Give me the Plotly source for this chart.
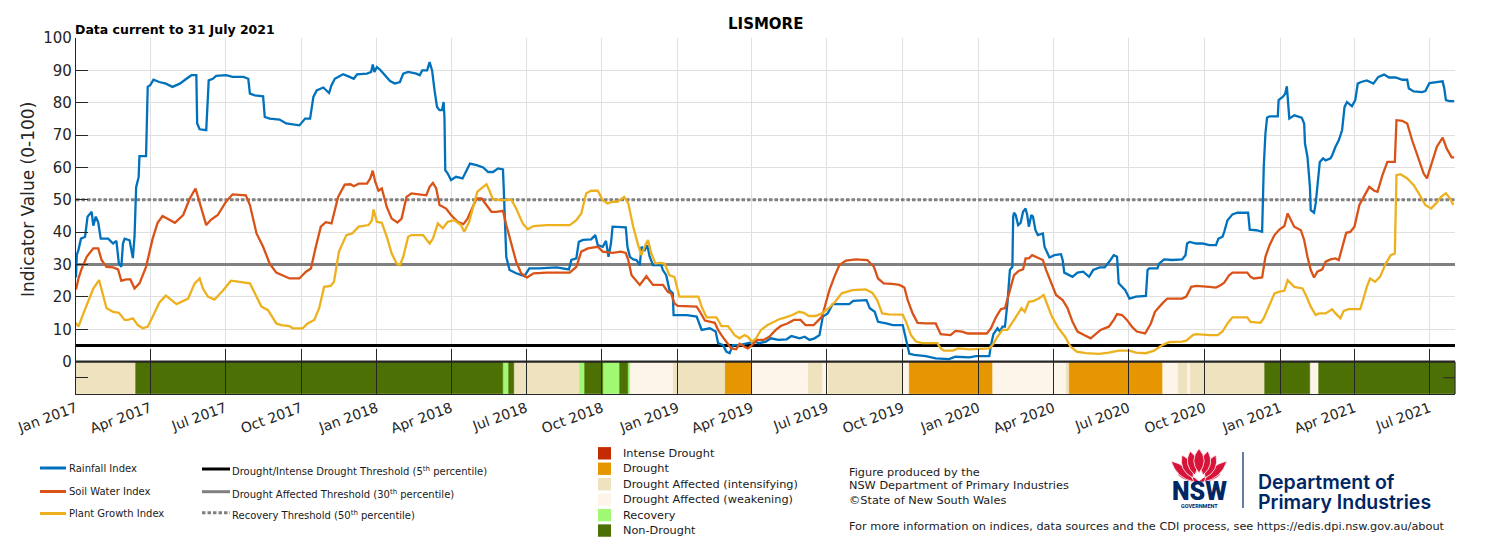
import plotly.graph_objects as go
import pandas as pd

# ---------------- DATA ----------------
rain_dates = [
 "2017-01-01","2017-01-02","2017-01-04","2017-01-07","2017-01-12","2017-01-15","2017-01-20","2017-01-22","2017-01-25","2017-01-28",
 "2017-01-31","2017-02-09","2017-02-15","2017-02-19","2017-02-22","2017-02-25","2017-02-27","2017-03-01","2017-03-07","2017-03-09",
 "2017-03-11","2017-03-13","2017-03-15","2017-03-18","2017-03-19","2017-03-27","2017-03-29","2017-04-01","2017-04-05","2017-04-12",
 "2017-04-20","2017-04-28","2017-05-07","2017-05-15","2017-05-21","2017-05-27","2017-05-28","2017-05-31","2017-06-08","2017-06-11",
 "2017-06-16","2017-06-20","2017-07-02","2017-07-10","2017-07-23","2017-07-29","2017-07-31","2017-08-06","2017-08-16","2017-08-18",
 "2017-08-24","2017-09-05","2017-09-13","2017-09-29","2017-10-06","2017-10-12","2017-10-16","2017-10-20","2017-10-28","2017-11-04",
 "2017-11-07","2017-11-11","2017-11-21","2017-11-29","2017-12-04","2017-12-08","2017-12-20","2017-12-25","2017-12-27","2017-12-29",
 "2018-01-01","2018-01-05","2018-01-11","2018-01-17","2018-01-23","2018-01-29","2018-02-02","2018-02-08","2018-02-18","2018-02-22",
 "2018-02-25","2018-03-03","2018-03-06","2018-03-09","2018-03-12","2018-03-15","2018-03-18","2018-03-21","2018-03-23","2018-03-24",
 "2018-03-25","2018-03-28","2018-04-01","2018-04-07","2018-04-15","2018-04-19","2018-04-24","2018-05-02","2018-05-10","2018-05-16",
 "2018-05-22","2018-05-28","2018-06-03","2018-06-04","2018-06-06","2018-06-07","2018-06-11","2018-06-19","2018-06-29","2018-07-05",
 "2018-07-17","2018-08-07","2018-08-22","2018-08-25","2018-08-31","2018-09-03","2018-09-08","2018-09-18","2018-09-23","2018-09-26",
 "2018-10-02","2018-10-06","2018-10-09","2018-10-12","2018-10-14","2018-10-18","2018-10-30","2018-11-01","2018-11-04","2018-11-08",
 "2018-11-12","2018-11-16","2018-11-18","2018-11-22","2018-11-25","2018-11-28","2018-12-02","2018-12-12","2018-12-14","2018-12-18",
 "2018-12-22","2018-12-26","2018-12-27","2019-01-12","2019-01-24","2019-01-30","2019-02-09","2019-02-16","2019-02-19","2019-02-25",
 "2019-03-01","2019-03-05","2019-03-09","2019-03-17","2019-03-27","2019-04-04","2019-04-10","2019-04-18","2019-04-24","2019-05-03",
 "2019-05-13","2019-05-19","2019-05-29","2019-06-04","2019-06-10","2019-06-16","2019-06-22","2019-06-26","2019-07-02","2019-07-08",
 "2019-07-28","2019-08-02","2019-08-18","2019-08-22","2019-08-28","2019-09-01","2019-09-11","2019-09-19","2019-10-01","2019-10-04",
 "2019-10-07","2019-10-09","2019-10-15","2019-10-29","2019-11-10","2019-11-26","2019-12-04","2019-12-21","2019-12-29","2020-01-14",
 "2020-01-16","2020-01-19","2020-01-24","2020-01-27","2020-01-30","2020-02-02","2020-02-05","2020-02-08","2020-02-11","2020-02-12",
 "2020-02-13","2020-02-15","2020-02-18","2020-02-21","2020-02-24","2020-02-27","2020-02-29","2020-03-02","2020-03-05","2020-03-07",
 "2020-03-10","2020-03-13","2020-03-19","2020-03-21","2020-03-27","2020-04-02","2020-04-10","2020-04-12","2020-04-14","2020-04-24",
 "2020-04-30","2020-05-07","2020-05-14","2020-05-19","2020-05-27","2020-06-02","2020-06-09","2020-06-13","2020-06-17","2020-06-19",
 "2020-06-27","2020-07-02","2020-07-10","2020-07-22","2020-07-24","2020-07-26","2020-08-05","2020-08-07","2020-08-13","2020-08-23",
 "2020-09-04","2020-09-08","2020-09-10","2020-09-13","2020-09-21","2020-09-29","2020-10-07","2020-10-15","2020-10-18","2020-10-23",
 "2020-10-25","2020-10-29","2020-11-04","2020-11-10","2020-11-23","2020-11-25","2020-12-03","2020-12-10","2020-12-12","2020-12-14",
 "2020-12-16","2020-12-19","2020-12-29","2020-12-30","2021-01-04","2021-01-07","2021-01-09","2021-01-10","2021-01-12","2021-01-18",
 "2021-01-27","2021-01-30","2021-01-31","2021-02-03","2021-02-04","2021-02-06","2021-02-07","2021-02-11","2021-02-13","2021-02-15",
 "2021-02-17","2021-02-18","2021-02-22","2021-02-25","2021-03-03","2021-03-05","2021-03-09","2021-03-13","2021-03-17","2021-03-20",
 "2021-03-23","2021-03-29","2021-04-02","2021-04-05","2021-04-09","2021-04-16","2021-04-20","2021-04-24","2021-04-30","2021-05-07",
 "2021-05-13","2021-05-21","2021-05-29","2021-06-04","2021-06-06","2021-06-12","2021-06-22","2021-06-26","2021-07-01","2021-07-09",
 "2021-07-17","2021-07-19","2021-07-21","2021-07-25","2021-07-31"]
rain_vals = [
 26,33,34.5,38,38.6,44.8,46.3,42,44.8,43,
 38,38,36.5,37.3,30.3,29.3,36.5,38,37.5,34.5,
 32,38.6,54,57,63.5,63.5,84.9,85.4,87.1,86.4,
 85.9,84.9,85.9,87.4,88.5,88.5,73.6,71.8,71.5,86.9,
 87.4,88.3,88.5,88,88,87.4,82.8,82.3,82,75.6,
 75.1,74.8,73.6,73,75.1,75.1,81.8,83.8,84.7,83,
 85.4,87.4,88.8,88,87.4,88.8,89,89.5,91.8,89.5,
 91,90.2,88.5,86.7,85.9,86.4,89,89.5,89,88.5,
 90,90,92.6,90,83.8,78.7,77.7,77.7,80.2,75.6,
 59.2,58.1,56.1,57.1,56.6,58.6,61.2,60.7,60,58.6,
 58.6,59.7,59.4,53,38.6,32.4,28.3,27.3,26.4,28.8,
 28.8,29.1,28.5,31.4,31.9,37,37.6,37.8,39.1,36,
 35.5,37.3,32.4,36.5,41.7,41.7,41.5,35.5,32.4,31.6,
 31.4,29.8,35.5,34.5,36,32.4,29.8,29.8,28.3,26.7,
 22.1,21.1,14.4,14.4,13.9,9.8,10.3,9.3,5.7,5.1,
 3.1,2.6,5.1,5.1,5.7,6.2,5.7,6.2,7.2,6.7,
 6.9,7.9,7.2,7.7,6.7,7.2,8.2,13.9,14.9,17.8,
 17.8,18.8,19,16.5,15.4,12.3,11.8,11.3,11.3,7.7,
 4.6,2.4,2.1,1.7,1.0,0.8,1.5,1.3,1.7,1.7,
 5.1,8.5,10.3,9.3,10.8,10.8,18,28.3,29.3,44.8,
 46,45.3,42.2,42.9,46.3,47.3,45.3,41.7,45.3,44.8,
 40.6,39.1,39.6,35.5,32.2,32.9,33.2,31.4,27.5,26.2,
 27.5,27.8,26.2,28.3,29.1,29.1,31.4,32.9,32.4,24.2,
 22.1,19.5,20.1,20.3,28.3,28.8,28.8,30.3,31.6,31.4,
 31.6,32.9,36.5,37,36.5,36.5,36,36,38,38.6,
 40.1,43.7,45.5,46,46,40.8,40.6,40.1,60.2,70.5,
 75.4,75.8,75.8,80.8,81.8,82.8,85.1,80.8,75.1,76.1,
 75.4,73.6,67.4,63.3,60.7,54,46.8,46,48.9,54,
 57.1,61.7,62.8,62.2,62.8,63.8,66.4,68.4,71.5,78.7,
 80.2,78.9,80.8,85.9,86.4,86.9,86.4,85.9,88,88.7,
 87.8,87.8,87.1,87.1,84.4,83.5,83.3,83.6,86.1,86.4,
 86.6,84.4,80.8,80.5,80.5]

soil_dates = [
 "2017-01-01","2017-01-04","2017-01-08","2017-01-14","2017-01-22","2017-01-28","2017-02-01","2017-02-07","2017-02-15","2017-02-21",
 "2017-02-25","2017-03-03","2017-03-08","2017-03-13","2017-03-19","2017-03-27","2017-04-04","2017-04-10","2017-04-16","2017-05-01",
 "2017-05-11","2017-05-19","2017-05-26","2017-05-31","2017-06-08","2017-06-14","2017-06-22","2017-07-02","2017-07-10","2017-07-26",
 "2017-07-31","2017-08-08","2017-08-16","2017-08-24","2017-09-01","2017-09-17","2017-09-29","2017-10-07","2017-10-13","2017-10-19",
 "2017-10-25","2017-10-31","2017-11-07","2017-11-15","2017-11-23","2017-11-30","2017-12-04","2017-12-10","2017-12-20","2017-12-24",
 "2017-12-27","2017-12-30","2018-01-03","2018-01-07","2018-01-13","2018-01-19","2018-01-26","2018-01-31","2018-02-06","2018-02-12",
 "2018-02-22","2018-03-02","2018-03-06","2018-03-10","2018-03-14","2018-03-18","2018-03-26","2018-04-01","2018-04-09","2018-04-16",
 "2018-04-21","2018-04-27","2018-05-02","2018-05-08","2018-05-14","2018-05-20","2018-05-26","2018-06-03","2018-06-07","2018-06-13",
 "2018-06-19","2018-06-25","2018-07-02","2018-07-10","2018-07-26","2018-08-23","2018-08-31","2018-09-06","2018-09-14","2018-09-26",
 "2018-10-02","2018-10-14","2018-10-24","2018-10-30","2018-11-02","2018-11-06","2018-11-12","2018-11-16","2018-11-24","2018-12-02",
 "2018-12-14","2018-12-20","2018-12-24","2018-12-28","2019-01-01","2019-01-24","2019-01-28","2019-02-03","2019-02-15","2019-02-19",
 "2019-02-23","2019-03-01","2019-03-07","2019-03-13","2019-03-17","2019-03-23","2019-03-27","2019-04-01","2019-04-07","2019-04-15",
 "2019-04-22","2019-04-30","2019-05-06","2019-05-14","2019-05-22","2019-05-30","2019-06-05","2019-06-15","2019-06-21","2019-06-25",
 "2019-06-29","2019-07-04","2019-07-10","2019-07-16","2019-07-24","2019-08-05","2019-08-19","2019-08-27","2019-09-01","2019-09-08",
 "2019-09-18","2019-09-27","2019-10-03","2019-10-07","2019-10-13","2019-10-19","2019-10-29","2019-11-10","2019-11-16","2019-11-28",
 "2019-12-04","2019-12-12","2019-12-19","2020-01-02","2020-01-11","2020-01-16","2020-01-22","2020-01-28","2020-02-02","2020-02-07",
 "2020-02-13","2020-02-19","2020-02-24","2020-02-27","2020-03-02","2020-03-06","2020-03-11","2020-03-19","2020-03-23","2020-03-29",
 "2020-04-04","2020-04-12","2020-04-18","2020-04-24","2020-04-30","2020-05-08","2020-05-16","2020-05-22","2020-05-28","2020-06-07",
 "2020-06-13","2020-06-17","2020-06-23","2020-06-29","2020-07-05","2020-07-11","2020-07-21","2020-07-28","2020-08-02","2020-08-11",
 "2020-08-17","2020-09-04","2020-09-09","2020-09-15","2020-09-21","2020-10-07","2020-10-15","2020-10-21","2020-10-25","2020-10-31",
 "2020-11-04","2020-11-22","2020-11-26","2020-11-30","2020-12-10","2020-12-14","2020-12-19","2020-12-25","2020-12-31","2021-01-06",
 "2021-01-10","2021-01-14","2021-01-18","2021-01-26","2021-01-30","2021-02-03","2021-02-07","2021-02-11","2021-02-15","2021-02-21",
 "2021-02-25","2021-03-03","2021-03-09","2021-03-13","2021-03-17","2021-03-22","2021-03-27","2021-04-01","2021-04-07","2021-04-13",
 "2021-04-19","2021-04-25","2021-04-29","2021-05-05","2021-05-11","2021-05-20","2021-05-22","2021-05-29","2021-06-04","2021-06-10",
 "2021-06-18","2021-06-24","2021-06-28","2021-07-04","2021-07-10","2021-07-17","2021-07-22","2021-07-28","2021-07-31"]
soil_vals = [
 22.3,25.7,28.8,32.4,35,35,31.4,29.3,29.1,28.5,
 25,25.4,25.4,22.6,24.2,29.3,38,42.9,45,42.9,
 45.3,50.4,53.5,48.9,42.2,43.9,45.3,49.4,51.7,51.4,
 48.4,39.6,35.5,30.3,27.5,25.7,25.7,27.8,28.8,35.5,
 41.7,43.1,42.7,50.9,54.7,54.8,54.2,55,55,56.6,
 59,55.6,52.8,53.5,47.8,44.2,43,44.2,50.9,52,
 51.6,51.4,54,55.2,53.5,48.4,47.3,45.3,43.2,42.5,
 44.2,47.8,50.4,50.4,48.4,46.3,46.3,46.6,42.2,36.5,
 30.9,27.3,26,27.3,27.5,27.5,29.3,34,35,35.5,
 34,33.6,34,33.6,31.4,26.7,24.7,23.7,26.4,23.7,
 23.7,21.6,21.1,18,17.2,17,15.4,12.7,12,9.8,
 8.2,6.2,4.1,3.8,5.5,4.6,4.1,5.1,6.7,6.7,
 7.7,9.8,11,11.8,12.9,12.9,11.3,11.3,12.9,13.9,
 17.5,22.1,26.2,29.8,31.2,31.6,31.4,29.3,25.7,24.2,
 24,23.7,22.9,19,14.9,12,11.8,11.8,8.5,8.2,
 9.5,9.3,8.7,8.7,8.7,10.3,13.7,16.2,16.5,21.1,
 26.7,28.1,28.5,31.9,31.9,32.9,32.4,31.4,28.3,24.2,
 20.6,19,16.5,12.3,9.3,8.2,7.2,8.5,9.8,10.8,
 12.9,14.7,14.4,12.9,10.8,9.3,8.7,11.8,15.4,18,
 19.5,19.5,20.1,23.1,23.4,23.1,22.9,23.7,24.4,26.7,
 27.5,27.5,26.2,25.7,26,32.4,36,39.1,40.8,41.9,
 45.8,43.7,41.7,40.6,37.6,32.4,28.3,26,27.8,28.5,
 30.9,31.6,31.9,31.4,35.5,39.8,40.1,41.7,48.4,51.4,
 54,52.8,52.5,57.6,61.7,61.7,74.6,74.4,73.6,68.4,
 62.2,58.1,56.6,61.2,66.4,69.2,65.8,63.1,63.1]

plant_dates = [
 "2017-01-01","2017-01-04","2017-01-10","2017-01-16","2017-01-22","2017-01-29","2017-02-02","2017-02-07","2017-02-15","2017-02-22",
 "2017-03-01","2017-03-05","2017-03-11","2017-03-17","2017-03-23","2017-03-29","2017-04-04","2017-04-12","2017-04-20","2017-05-03",
 "2017-05-17","2017-05-25","2017-05-31","2017-06-04","2017-06-10","2017-06-18","2017-06-28","2017-07-08","2017-07-31","2017-08-06",
 "2017-08-14","2017-08-22","2017-09-01","2017-09-07","2017-09-17","2017-09-21","2017-10-03","2017-10-09","2017-10-17","2017-10-23",
 "2017-10-29","2017-11-06","2017-11-10","2017-11-16","2017-11-25","2017-12-02","2017-12-10","2017-12-22","2017-12-26","2017-12-28",
 "2018-01-01","2018-01-07","2018-01-13","2018-01-19","2018-01-25","2018-01-29","2018-02-02","2018-02-08","2018-02-12","2018-02-26",
 "2018-03-06","2018-03-10","2018-03-16","2018-03-22","2018-03-28","2018-04-05","2018-04-13","2018-04-17","2018-04-23","2018-04-29",
 "2018-05-03","2018-05-10","2018-05-14","2018-05-17","2018-05-22","2018-06-03","2018-06-13","2018-06-19","2018-06-27","2018-07-03",
 "2018-07-10","2018-07-26","2018-08-23","2018-08-31","2018-09-06","2018-09-12","2018-09-18","2018-09-26","2018-10-02","2018-10-08",
 "2018-10-14","2018-10-20","2018-10-28","2018-11-02","2018-11-08","2018-11-14","2018-11-18","2018-11-22","2018-11-26","2018-11-30",
 "2018-12-05","2018-12-10","2018-12-16","2018-12-22","2018-12-28","2019-01-01","2019-01-03","2019-01-26","2019-01-30","2019-02-05",
 "2019-02-17","2019-02-23","2019-03-03","2019-03-11","2019-03-17","2019-03-23","2019-03-27","2019-04-01","2019-04-06","2019-04-12",
 "2019-04-20","2019-04-28","2019-05-04","2019-05-12","2019-05-20","2019-05-28","2019-06-03","2019-06-09","2019-06-17","2019-06-25",
 "2019-07-03","2019-07-11","2019-07-19","2019-08-01","2019-08-17","2019-08-25","2019-08-31","2019-09-06","2019-09-14","2019-10-01",
 "2019-10-05","2019-10-11","2019-10-17","2019-10-25","2019-11-12","2019-11-16","2019-11-20","2019-12-01","2019-12-07","2019-12-21",
 "2020-01-14","2020-01-18","2020-01-24","2020-01-30","2020-02-05","2020-02-13","2020-02-22","2020-02-26","2020-03-02","2020-03-08",
 "2020-03-14","2020-03-20","2020-03-24","2020-03-30","2020-04-07","2020-04-15","2020-04-21","2020-04-29","2020-05-10","2020-05-26",
 "2020-06-07","2020-06-19","2020-07-02","2020-07-10","2020-07-22","2020-08-01","2020-08-11","2020-08-19","2020-09-04","2020-09-09",
 "2020-09-17","2020-09-21","2020-10-07","2020-10-17","2020-10-23","2020-10-29","2020-11-04","2020-11-22","2020-11-26","2020-12-08",
 "2020-12-12","2020-12-19","2020-12-25","2020-12-31","2021-01-06","2021-01-10","2021-01-14","2021-01-18","2021-01-28","2021-02-01",
 "2021-02-07","2021-02-13","2021-02-17","2021-02-25","2021-03-05","2021-03-09","2021-03-15","2021-03-19","2021-03-25","2021-04-08",
 "2021-04-12","2021-04-16","2021-04-20","2021-04-26","2021-05-02","2021-05-09","2021-05-15","2021-05-20","2021-05-22","2021-05-27",
 "2021-06-04","2021-06-12","2021-06-18","2021-06-26","2021-07-03","2021-07-09","2021-07-15","2021-07-21","2021-07-26","2021-07-30"]
plant_vals = [
 12,10.8,14.9,19,22.6,25.2,21,16.5,15.4,15.1,
 12.9,12.9,13.4,11.3,10.3,10.8,13.9,18.2,20.4,17.8,
 19.5,24.2,25.7,22.6,20.1,19.2,21.9,25,24.2,21.1,
 17,15.9,11.8,11.3,11,10.3,10.3,11.8,12.9,16.5,
 23.1,23.4,24.7,34,39.1,39.6,41.7,42.2,43.7,47,
 43.2,42.9,38.6,33.4,30.3,29.8,32.4,38.6,39.1,39.1,
 36.5,38,42.7,41.2,43.2,43.7,42.2,40.1,43.2,48.9,
 52.5,54,54.8,53.2,50.1,49.9,50.1,47.3,42.7,40.9,
 41.9,42.2,42.2,43.7,45.8,52,52.8,52.8,49.9,48.9,
 49.4,49.4,50.9,48.9,41.7,36,32.9,35.7,37.6,33.4,
 30.3,30.5,30.3,26.7,26.2,22.1,20.1,20.1,17,13.7,
 13.7,11,11,8.2,7.2,8.2,7.7,6.2,7.2,9.8,
 11.3,12.3,13.1,13.7,14.4,15.4,15.1,14.1,14.1,14.9,
 16.5,18.5,21.1,22.1,22.3,21.3,19,14.9,14.6,14.5,
 12.3,8.2,6.2,5.7,5.7,4.1,3.4,3.4,4.1,3.8,
 4.1,5.1,7.7,9.8,9.8,12.9,16.5,15.4,18.5,18.8,
 19.5,20.6,18,13.9,10.3,7.7,4.8,3.1,2.6,2.4,
 2.8,3.4,3.4,2.8,2.6,3.4,5.1,6,6.2,6.5,
 8.2,8.5,8.2,8.2,9.3,11.8,13.7,13.7,12.3,12,
 13.4,17.8,21.1,21.6,21.9,25.2,24,23.1,22.6,20.6,
 17,14.4,14.9,14.9,16.2,14.9,13.4,15.7,16.2,16.2,
 19.5,23.1,25.7,24.7,26.2,30.3,32.9,33.4,57.6,57.9,
 56.6,54.5,52,48.4,47.3,48.9,50.9,52,50.4,48.4]

series_names = ["Rainfall Index", "Soil Water Index", "Plant Growth Index"]
series_colors = ["#0072BD", "#D95319", "#EDB120"]

# drought-phase strip
strip_start = ["2017-01-01","2017-03-15","2018-06-03","2018-06-10","2018-06-16","2018-09-04","2018-09-10","2018-10-02",
               "2018-10-23","2018-11-02","2018-11-04","2018-12-26","2019-02-27","2019-04-01","2019-06-08","2019-06-26",
               "2019-07-02","2019-10-01","2019-10-08","2020-01-19","2020-04-16","2020-04-20","2020-08-12","2020-08-30",
               "2020-09-11","2020-09-14","2020-12-13","2021-02-06","2021-02-17"]
strip_end = strip_start[1:] + ["2021-08-01"]
strip_cat = ["Drought Affected (intensifying)","Non-Drought","Recovery","Non-Drought","Drought Affected (intensifying)",
             "Recovery","Non-Drought","Recovery","Non-Drought","Recovery","Drought Affected (weakening)",
             "Drought Affected (intensifying)","Drought","Drought Affected (weakening)","Drought Affected (intensifying)",
             "Drought Affected (weakening)","Drought Affected (intensifying)","Drought Affected (weakening)","Drought",
             "Drought Affected (weakening)","Drought Affected (intensifying)","Drought","Drought Affected (weakening)",
             "Drought Affected (intensifying)","Drought Affected (weakening)","Drought Affected (intensifying)",
             "Non-Drought","Drought Affected (weakening)","Non-Drought"]

cat_names = ["Intense Drought","Drought","Drought Affected (intensifying)","Drought Affected (weakening)","Recovery","Non-Drought"]
cat_colors = ["#C42B02","#E69600","#EEE2BF","#FDF5EA","#A1F872","#4C7004"]

threshold_vals = [5, 30, 50]
threshold_labels = ["Drought/Intense Drought Threshold (5<sup>th</sup> percentile)",
                    "Drought Affected Threshold (30<sup>th</sup> percentile)",
                    "Recovery Threshold (50<sup>th</sup> percentile)"]
threshold_colors = ["#000000", "#808080", "#808080"]
threshold_dash = ["solid", "solid", "3.5px,2px"]

x_range = ["2017-01-01", "2021-08-01"]
y_ticks = [-5, 0, 10, 20, 30, 40, 50, 60, 70, 80, 90, 100]

# ---------------- LAYOUT HELPERS ----------------
FONT = "DejaVu Sans"
W, H = 1500, 541
ML, MR, MT, MB = 76, 45, 38, 147
PW = W - ML - MR
PH = H - MT - MB
BOTTOM = H - MB
AX = "#262626"
NAVY = "#002664"


def px(x):
    return (x - ML) / PW


def py(y):
    return (BOTTOM - y) / PH


fig = go.Figure()

# strip bars
for cat, col in zip(cat_names, cat_colors):
    xs, ws, hs = [], [], []
    for s, e, c in zip(strip_start, strip_end, strip_cat):
        if c == cat:
            s_, e_ = pd.Timestamp(s), pd.Timestamp(e)
            xs.append(s_ + (e_ - s_) / 2)
            ws.append((e_ - s_).total_seconds() * 1000)
            hs.append(10)
    if xs:
        fig.add_trace(go.Bar(x=xs, y=hs, base=-10, width=ws,
                             marker=dict(color=col, line=dict(color=col, width=0.6)),
                             showlegend=False, hoverinfo="skip"))

# threshold lines (as traces, above grid, below data)
for v, c, d in zip(threshold_vals, threshold_colors, threshold_dash):
    fig.add_trace(go.Scatter(x=x_range, y=[v, v], mode="lines", line=dict(color=c, width=3, dash=d),
                             showlegend=False, hoverinfo="skip"))

# index series
for name, d, v, c in zip(series_names, [rain_dates, soil_dates, plant_dates],
                         [rain_vals, soil_vals, plant_vals], series_colors):
    fig.add_trace(go.Scatter(x=d, y=v, mode="lines", name=name,
                             line=dict(color=c, width=2.3), showlegend=False))

# strip frame
fig.add_shape(type="line", xref="paper", yref="y", x0=0, x1=1, y0=0, y1=0,
              line=dict(color=AX, width=2.2))
fig.add_shape(type="line", xref="paper", yref="y", x0=1, x1=1, y0=-10, y1=0,
              line=dict(color=AX, width=1.2))
fig.add_shape(type="line", xref="paper", yref="y", x0=1 - 12 / PW, x1=1, y0=-5, y1=-5,
              line=dict(color=AX, width=1))


def txt(x, y, s, size=10, xanchor="left", yanchor="middle", color=AX, weight="normal",
        family=FONT, angle=0):
    fig.add_annotation(x=px(x), y=py(y), xref="paper", yref="paper", text=s, showarrow=False,
                       xanchor=xanchor, yanchor=yanchor, textangle=angle, align="left",
                       borderpad=0, borderwidth=0,
                       font=dict(family=family, size=size, color=color, weight=weight))


def hline(x0, x1, y, color, width, dash="solid"):
    fig.add_shape(type="line", xref="paper", yref="paper", x0=px(x0), x1=px(x1),
                  y0=py(y), y1=py(y), line=dict(color=color, width=width, dash=dash))


# titles
txt(765.5, 24, "LISMORE", size=15, xanchor="center", color="#000000", weight="bold")
txt(75, 30, "Data current to 31 July 2021", size=12.5, color="#000000", weight="bold")
txt(28, 200, "Indicator Value (0-100)", size=17, xanchor="center", angle=-90)

# series legend
for i, (nm, c) in enumerate(zip(series_names, series_colors)):
    yy = [468, 491.5, 513.5][i]
    hline(40, 66, yy, c, 3)
    txt(69, yy, nm, size=10, color="#1a1a1a")

# threshold legend
for i, (lab, c, d) in enumerate(zip(threshold_labels, threshold_colors, threshold_dash)):
    yy = [469, 491.7, 512.7][i]
    hline(202, 230, yy, c, 3, d)
    txt(232, yy + 2, lab, size=10, color="#1a1a1a")

# category legend
for i, (nm, c) in enumerate(zip(cat_names, cat_colors)):
    yc = 453.3 + i * 15.45
    fig.add_shape(type="rect", xref="paper", yref="paper", x0=px(598), x1=px(611),
                  y0=py(yc + 6.2), y1=py(yc - 6.2), line=dict(width=0), fillcolor=c)
    txt(623, yc, nm, size=11.3, color="#1a1a1a")

# credits
txt(849, 472.3, "Figure produced by the", size=11.3, color="#1a1a1a")
txt(849, 485.7, "NSW Department of Primary Industries", size=11.3, color="#1a1a1a")
txt(849, 500, "©State of New South Wales", size=11.3, color="#1a1a1a")
txt(849, 526, "For more information on indices, data sources and the CDI process, see https://edis.dpi.nsw.gov.au/about",
    size=11.3, color="#1a1a1a")


# NSW logo (waratah)
def petal(tip, base, w):
    tx, ty = tip
    bx, by = base
    mx, my = (tx + bx) / 2, (ty + by) / 2
    dx, dy = tx - bx, ty - by
    L = (dx * dx + dy * dy) ** 0.5
    nx, ny = -dy / L, dx / L
    c1 = (mx + nx * w * 2, my + ny * w * 2)
    c2 = (mx - nx * w * 2, my - ny * w * 2)
    pts = [base, c1, tip, c2]
    p = [(px(a), py(b)) for a, b in pts]
    return "M {0[0]},{0[1]} Q {1[0]},{1[1]} {2[0]},{2[1]} Q {3[0]},{3[1]} {0[0]},{0[1]} Z".format(*p)


petals = [((1177, 474), (1200, 482), 3.2), ((1221, 474), (1198, 482), 3.2),
          ((1171, 461), (1194, 482), 4.5), ((1227, 461), (1204, 482), 4.5),
          ((1182, 455), (1193, 478), 5), ((1216, 455), (1205, 478), 5),
          ((1190, 451), (1195, 475), 5), ((1208, 451), (1203, 475), 5),
          ((1199, 448.5), (1199, 473), 5.2)]
for tip, base, w in petals:
    fig.add_shape(type="path", xref="paper", yref="paper", path=petal(tip, base, w),
                  fillcolor="#D7153A", line=dict(color="white", width=0.8))

txt(1199, 492, "NSW", size=25, xanchor="center", color=NAVY, weight=900, family="Roboto")
txt(1199, 506, "GOVERNMENT", size=5.5, xanchor="center", color=NAVY, weight="bold", family="Roboto")
fig.add_shape(type="line", xref="paper", yref="paper", x0=px(1243), x1=px(1243), y0=py(452), y1=py(508),
              line=dict(color=NAVY, width=1.2))
txt(1258, 481.5, "Department of", size=19.5, color=NAVY, weight=600, family="Inter")
txt(1258, 501.5, "Primary Industries", size=19.5, color=NAVY, weight=600, family="Inter")

fig.update_layout(
    width=W, height=H,
    margin=dict(l=ML, r=MR, t=MT, b=MB, pad=0),
    paper_bgcolor="white", plot_bgcolor="white",
    barmode="overlay", bargap=0,
    showlegend=False,
    font=dict(family=FONT, color=AX),
    xaxis=dict(type="date", range=x_range, tick0="2017-01-01", dtick="M3",
               tickformat="%b %Y", tickangle=-20, ticks="inside", ticklen=45, tickwidth=1,
               tickcolor=AX, showgrid=True, gridcolor="#e0e0e0", gridwidth=1,
               showline=True, linecolor=AX, linewidth=1.2, zeroline=False,
               tickfont=dict(family=FONT, size=14, color=AX), automargin=False),
    yaxis=dict(range=[-10, 100], tickvals=y_ticks, ticktext=["" if v < 0 else str(v) for v in y_ticks],
               ticks="inside", ticklen=12, tickwidth=1, tickcolor=AX,
               showgrid=True, gridcolor="#e0e0e0", gridwidth=1,
               showline=True, linecolor=AX, linewidth=1.2, zeroline=False,
               tickfont=dict(family=FONT, size=15, color=AX), automargin=False),
)

fig.write_html("out.html", config={"displayModeBar": False})
